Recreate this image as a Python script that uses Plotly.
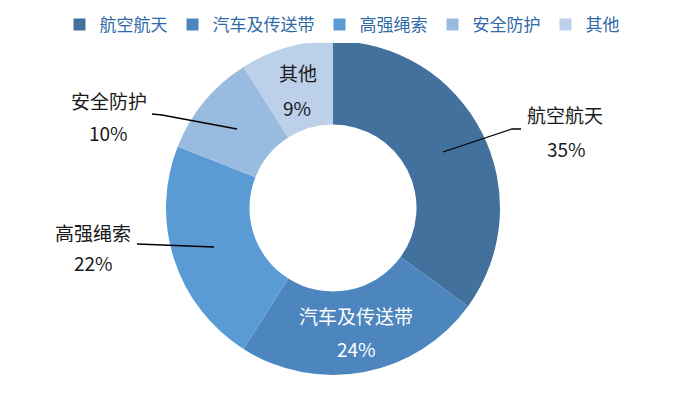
import plotly.graph_objects as go

categories = ["航空航天", "汽车及传送带", "高强绳索", "安全防护", "其他"]
values = [35, 24, 22, 10, 9]
colors = ["#42719E", "#4D85BE", "#5B9BD5", "#9ABBE0", "#BDD0EA"]
pct_labels = ["35%", "24%", "22%", "10%", "9%"]

W, H = 698, 398
FONT = "Noto Sans CJK SC, Microsoft YaHei, sans-serif"

def px(x):
    return x / W

def py(y):
    return 1 - y / H

fig = go.Figure(go.Pie(
    labels=categories,
    values=values,
    hole=0.5,
    sort=False,
    direction="clockwise",
    rotation=0,
    marker=dict(colors=colors, line=dict(width=0)),
    textinfo="none",
    hoverinfo="label+percent",
    domain=dict(x=[px(166), px(500)], y=[py(375), py(41)]),
))

# label positions (pixel centres) for name and percent, and text colour
label_pos = [
    ((565, 115), (566, 148), "#1a1a1a"),
    ((356, 315), (356, 348), "#ffffff"),
    ((93, 232), (93, 262), "#1a1a1a"),
    ((109, 101), (108, 132), "#1a1a1a"),
    ((298, 73), (297, 107), "#1a1a1a"),
]
annotations = []
for name, pct, (p1, p2, col) in zip(categories, pct_labels, label_pos):
    for txt, p in ((name, p1), (pct, p2)):
        annotations.append(dict(x=px(p[0]), y=py(p[1]), xref="paper", yref="paper",
                                xanchor="center", yanchor="middle",
                                text=txt, showarrow=False,
                                font=dict(family=FONT, size=19, color=col)))

leaders = [
    [(443, 152), (512, 129), (521, 129)],
    [(137, 244), (214, 247)],
    [(152, 114), (162, 115), (237, 129)],
]
shapes = []
for pts in leaders:
    path = "M " + " L ".join(f"{px(x)},{py(y)}" for x, y in pts)
    shapes.append(dict(type="path", xref="paper", yref="paper", path=path,
                       line=dict(color="#000000", width=1.3)))

fig.update_layout(
    width=W, height=H,
    margin=dict(l=0, r=0, t=0, b=0, autoexpand=False),
    paper_bgcolor="white",
    plot_bgcolor="white",
    showlegend=True,
    legend=dict(orientation="h", x=px(342), xanchor="center", y=py(7), yanchor="top",
                font=dict(family=FONT, size=17, color="#2F6AA8"),
                itemwidth=30, tracegroupgap=0, itemclick=False),
    annotations=annotations,
    shapes=shapes,
)

fig.write_html("out.html", config={"displayModeBar": False},
               post_script="document.body.style.margin='0px';")
